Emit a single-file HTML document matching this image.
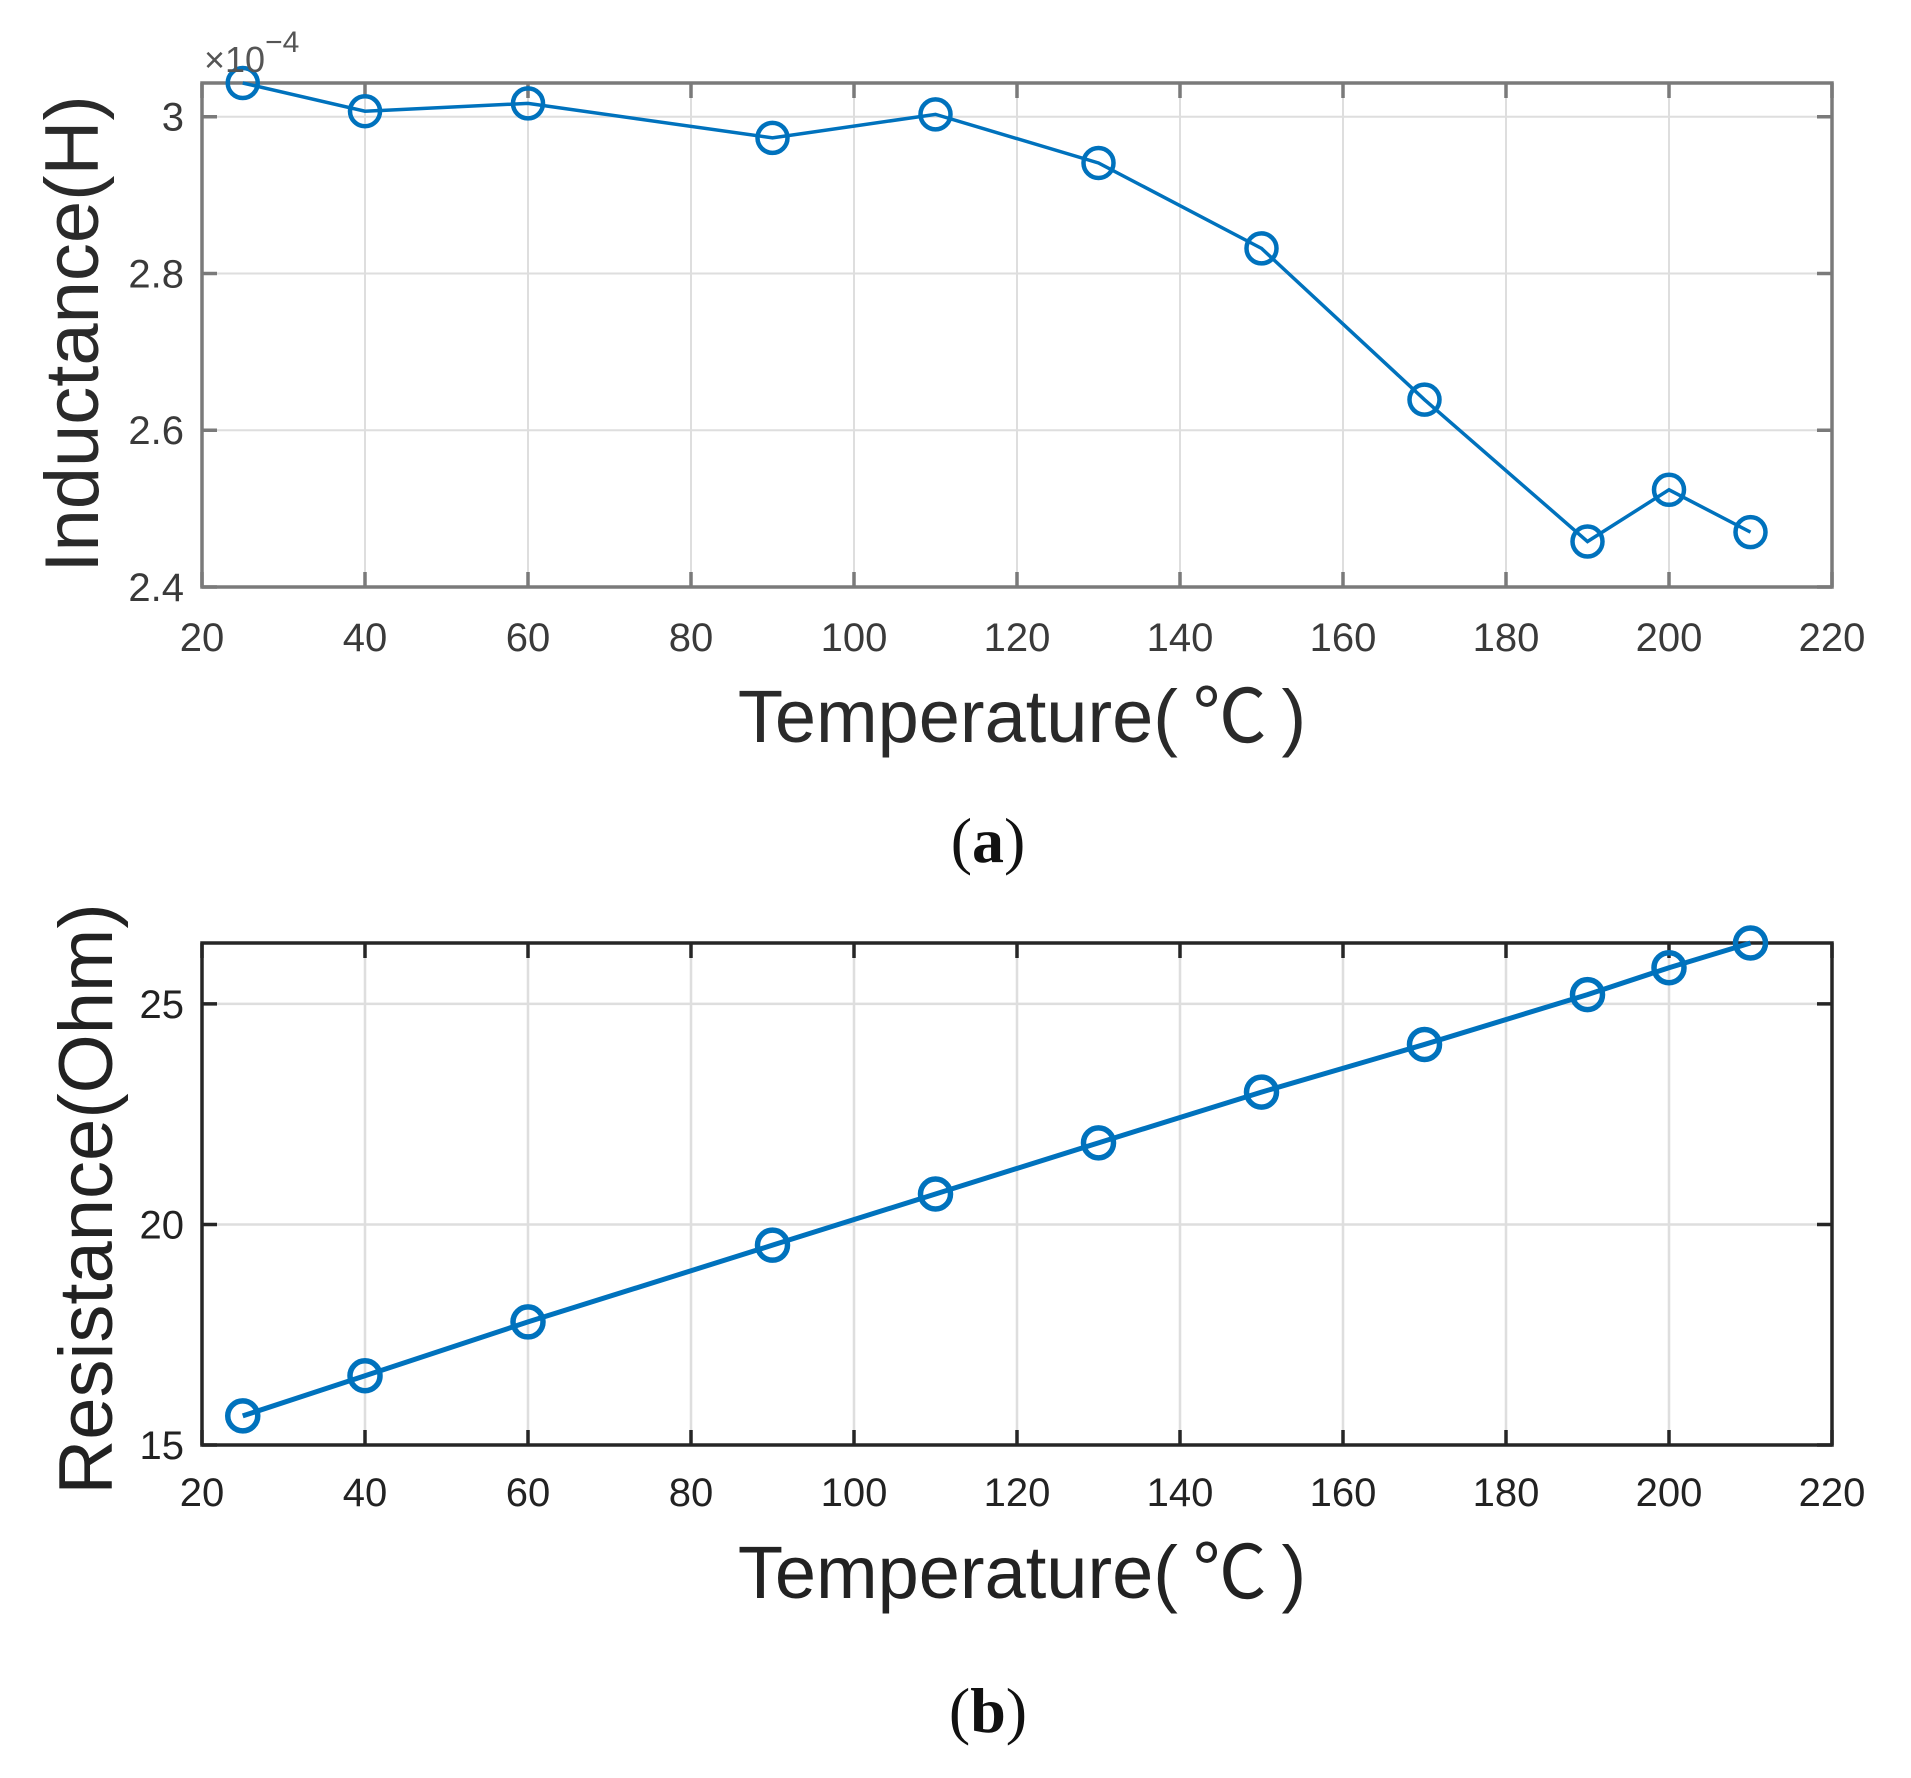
<!DOCTYPE html>
<html><head><meta charset="utf-8"><style>
body{margin:0;background:#fff}
svg{display:block}
</style></head><body>
<svg id="fig" width="1911" height="1778" viewBox="0 0 1911 1778" xmlns="http://www.w3.org/2000/svg">
<rect width="1911" height="1778" fill="#fff"/>
<g id="pa"></g>
<g id="pb"></g>
<text x="1022" y="742" text-anchor="middle" font-family="Liberation Sans, Noto Sans CJK SC, sans-serif" font-size="74" fill="#2a2a2a">Temperature(&#8201;℃&#8201;)</text>
<text x="988" y="862" text-anchor="middle" font-family="Liberation Serif, serif" font-size="64" fill="#111">(<tspan font-weight="bold">a</tspan>)</text>
<text x="1022" y="1598" text-anchor="middle" font-family="Liberation Sans, Noto Sans CJK SC, sans-serif" font-size="74" fill="#222">Temperature(&#8201;℃&#8201;)</text>
<text x="988" y="1732" text-anchor="middle" font-family="Liberation Serif, serif" font-size="64" fill="#111">(<tspan font-weight="bold">b</tspan>)</text>
<text transform="translate(98,334) rotate(-90)" text-anchor="middle" font-family="Liberation Sans, sans-serif" font-size="76" fill="#2a2a2a">Inductance(H)</text>
<text transform="translate(112,1199) rotate(-90)" text-anchor="middle" font-family="Liberation Sans, sans-serif" font-size="76" fill="#222">Resistance(Ohm)</text>
<text x="204" y="72" font-family="Liberation Sans, sans-serif" font-size="36" fill="#555">×10<tspan dy="-20" font-size="30">−4</tspan></text>
</svg>
<script>
const temps = [25, 40, 60, 90, 110, 130, 150, 170, 190, 200, 210];
const inductance = [3.043, 3.007, 3.017, 2.973, 3.003, 2.941, 2.832, 2.639, 2.458, 2.524, 2.470];
const resistance = [15.66, 16.57, 17.79, 19.53, 20.69, 21.85, 23.0, 24.08, 25.21, 25.82, 26.38];
const xTicks = [20, 40, 60, 80, 100, 120, 140, 160, 180, 200, 220];
const yTicksA = [2.4, 2.6, 2.8, 3.0];
const yTickLabelsA = ['2.4', '2.6', '2.8', '3'];
const yTicksB = [15, 20, 25];
const yTickLabelsB = ['15', '20', '25'];

const NS = 'http://www.w3.org/2000/svg';
function mk(parent, tag, attrs) {
  const e = document.createElementNS(NS, tag);
  for (const k in attrs) e.setAttribute(k, attrs[k]);
  parent.appendChild(e);
  return e;
}
function draw(g, cfg) {
  const L = 202, R = 1832, T = cfg.top, B = cfg.bottom;
  const xs = v => L + (v - 20) / 200 * (R - L);
  const ys = v => B - (v - cfg.ymin) / (cfg.ymax - cfg.ymin) * (B - T);
  xTicks.forEach(t => {
    const gl = mk(g, 'line', {x1: xs(t), x2: xs(t), y1: T, y2: B, stroke: '#dedede', 'stroke-width': cfg.gw});
    
    
  });
  cfg.yt.forEach(t => {
    const gl = mk(g, 'line', {x1: L, x2: R, y1: ys(t), y2: ys(t), stroke: '#dedede', 'stroke-width': cfg.gw});
    
    
  });
  xTicks.forEach(t => {
    const a = mk(g, 'path', {d: `M${xs(t)} ${B}v-15M${xs(t)} ${T}v15`, stroke: cfg.ac, 'stroke-width': cfg.aw});
    
    
    const lb = mk(g, 'text', {x: xs(t), y: cfg.xly, 'text-anchor': 'middle', 'font-family': 'Liberation Sans, sans-serif', 'font-size': 40, fill: cfg.tc});
    lb.textContent = t;
    
    
  });
  cfg.yt.forEach((t, i) => {
    const a = mk(g, 'path', {d: `M${L} ${ys(t)}h15M${R} ${ys(t)}h-15`, stroke: cfg.ac, 'stroke-width': cfg.aw});
    
    
    const lb = mk(g, 'text', {x: 184, y: ys(t) + 14, 'text-anchor': 'end', 'font-family': 'Liberation Sans, sans-serif', 'font-size': 40, fill: cfg.tc});
    lb.textContent = cfg.yl[i];
    
    
  });
  const box = mk(g, 'rect', {x: L, y: T, width: R - L, height: B - T, fill: 'none', stroke: cfg.ac, 'stroke-width': cfg.aw});
  
  
  const pts = temps.map((t, i) => xs(t) + ',' + ys(cfg.data[i])).join(' ');
  const line = mk(g, 'polyline', {points: pts, fill: 'none', stroke: '#0072bd', 'stroke-width': cfg.lw});
  
  
  temps.forEach((t, i) => {
    const c = mk(g, 'circle', {cx: xs(t), cy: ys(cfg.data[i]), r: cfg.mr, fill: 'none', stroke: '#0072bd', 'stroke-width': cfg.mw});
    
    
  });
}
draw(document.getElementById('pa'), {top: 83, bottom: 587, ymin: 2.4, ymax: 3.043, yt: yTicksA, yl: yTickLabelsA, data: inductance, ac: '#7a7a7a', aw: 3.5, gw: 2, tc: '#3a3a3a', xly: 651, lw: 3.5, mr: 15, mw: 4.5});
draw(document.getElementById('pb'), {top: 943, bottom: 1445, ymin: 15, ymax: 26.38, yt: yTicksB, yl: yTickLabelsB, data: resistance, ac: '#262626', aw: 3.5, gw: 2.5, tc: '#222', xly: 1506, lw: 5, mr: 15, mw: 5.5});
</script>
</body></html>
